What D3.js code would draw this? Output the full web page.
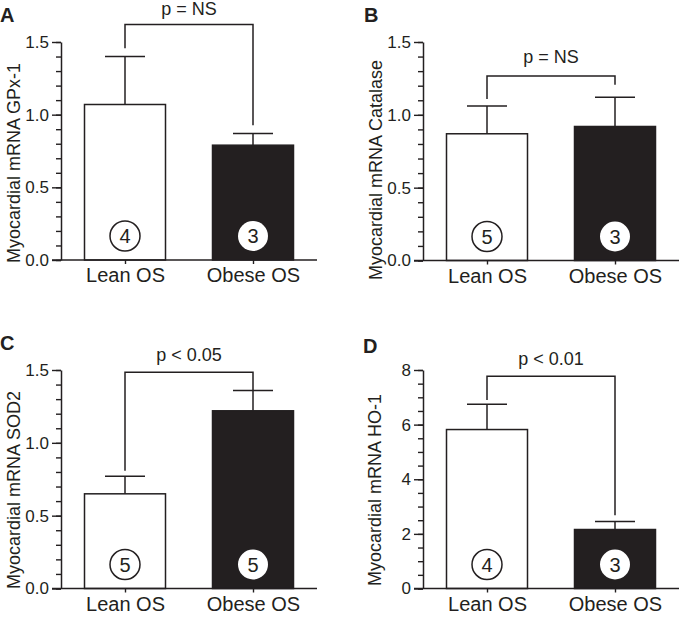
<!DOCTYPE html>
<html>
<head>
<meta charset="utf-8">
<script src="https://cdn.jsdelivr.net/npm/d3@7"></script>
<style>
  body { margin: 0; background: #fff; }
  svg { display: block; }
  text { font-family: "Liberation Sans", Arial, sans-serif; fill: #231f20; }
</style>
</head>
<body>
<script>
// data
var groups = ["Lean OS", "Obese OS"];
var letters = ["A", "B", "C", "D"];
var yTitles = ["Myocardial mRNA GPx-1", "Myocardial mRNA Catalase", "Myocardial mRNA SOD2", "Myocardial mRNA HO-1"];
var yMax = [1.5, 1.5, 1.5, 8];
var majorStep = [0.5, 0.5, 0.5, 2];
var minorStep = [0.1, 0.1, 0.1, 0.5];
var means = [[1.07, 0.79], [0.87, 0.92], [0.65, 1.22], [5.82, 2.16]];
var sems = [[0.33, 0.08], [0.19, 0.20], [0.12, 0.14], [0.93, 0.29]];
var nCounts = [[4, 3], [5, 3], [5, 5], [4, 3]];
var pLabels = ["p = NS", "p = NS", "p < 0.05", "p < 0.01"];
var bracketTop = [1.62, 1.266, 1.484, 7.77];
var bracketLegs = [[1.457, 0.927], [1.108, 1.206], [0.809, 1.363], [6.90, 2.68]];

var W = 679, H = 618, ink = "#231f20";

// panel placement (pixels)
var layout = [
  {ox: 61, xEnd: 317, y0: 260, yTop: 42, letterX: 0, letterY: 22, titleX: 20, titleY: 163, pGap: 10},
  {ox: 423, xEnd: 679, y0: 260.5, yTop: 42, letterX: 364, letterY: 22, titleX: 382, titleY: 170, pGap: 13},
  {ox: 61, xEnd: 317, y0: 588.5, yTop: 370, letterX: 0, letterY: 350, titleX: 20, titleY: 490, pGap: 11},
  {ox: 423, xEnd: 679, y0: 588.5, yTop: 370, letterX: 363, letterY: 353, titleX: 381, titleY: 490, pGap: 11}
];

var svg = d3.select("body").append("svg")
  .attr("width", W)
  .attr("height", H);

letters.forEach(function (letter, i) {
  var L = layout[i];
  var g = svg.append("g");

  var y = d3.scaleLinear().domain([0, yMax[i]]).range([L.y0, L.yTop]);
  var x = d3.scalePoint().domain(groups).range([L.ox, L.xEnd]).padding(0.5);
  var barW = 81;

  var fmt = yMax[i] > 2 ? d3.format("d") : d3.format(".1f");
  var majors = d3.range(0, yMax[i] + 1e-9, majorStep[i]);
  var minors = d3.range(0, yMax[i] + 1e-9, minorStep[i]);

  // minor ticks
  g.append("g")
    .attr("transform", "translate(" + L.ox + ",0)")
    .call(d3.axisLeft(y).tickValues(minors).tickSize(5).tickFormat(""))
    .call(function (a) { a.select(".domain").remove(); a.selectAll("line").attr("stroke", ink).attr("stroke-width", 1.4); });

  // major ticks + labels
  var ya = g.append("g")
    .attr("transform", "translate(" + L.ox + ",0)")
    .call(d3.axisLeft(y).tickValues(majors).tickSize(9).tickPadding(3).tickSizeOuter(0).tickFormat(fmt));
  ya.select(".domain").attr("stroke", ink).attr("stroke-width", 1.5);
  ya.selectAll("line").attr("stroke", ink).attr("stroke-width", 1.4);
  ya.selectAll("text").attr("font-size", 17).attr("fill", ink)
    .attr("font-family", "Liberation Sans, Arial, sans-serif");

  // bars
  g.selectAll("rect.bar").data(means[i]).enter().append("rect")
    .attr("x", function (d, j) { return x(groups[j]) - barW / 2; })
    .attr("y", function (d) { return y(d); })
    .attr("width", barW)
    .attr("height", function (d) { return y(0) - y(d); })
    .attr("fill", function (d, j) { return j === 0 ? "#fff" : ink; })
    .attr("stroke", ink)
    .attr("stroke-width", 1.5);

  // error bars (upper only)
  means[i].forEach(function (m, j) {
    var cx = x(groups[j]), top = y(m + sems[i][j]);
    g.append("line").attr("x1", cx).attr("x2", cx).attr("y1", y(m)).attr("y2", top)
      .attr("stroke", ink).attr("stroke-width", 1.5);
    g.append("line").attr("x1", cx - 20).attr("x2", cx + 20).attr("y1", top).attr("y2", top)
      .attr("stroke", ink).attr("stroke-width", 1.5);
  });

  // x axis
  var xa = g.append("g")
    .attr("transform", "translate(0," + L.y0 + ")")
    .call(d3.axisBottom(x).tickSize(4).tickPadding(4).tickSizeOuter(0));
  xa.select(".domain").attr("d", "M" + (L.ox - 9) + ",0H" + L.xEnd).attr("stroke", ink).attr("stroke-width", 1.5);
  xa.selectAll("line").attr("stroke", ink).attr("stroke-width", 1.4);
  xa.selectAll("text").attr("font-size", 20).attr("fill", ink)
    .attr("font-family", "Liberation Sans, Arial, sans-serif");

  // n circles
  nCounts[i].forEach(function (n, j) {
    var cx = x(groups[j]), cy = L.y0 - 24;
    g.append("circle").attr("cx", cx).attr("cy", cy).attr("r", 15)
      .attr("fill", "#fff")
      .attr("stroke", j === 0 ? ink : "none")
      .attr("stroke-width", 1.5);
    g.append("text").attr("x", cx).attr("y", cy + 7)
      .attr("text-anchor", "middle").attr("font-size", 20)
      .text(n);
  });

  // significance bracket
  var xl = x(groups[0]), xr = x(groups[1]), bt = y(bracketTop[i]);
  g.append("path")
    .attr("d", "M" + xl + "," + y(bracketLegs[i][0]) + "V" + bt + "H" + xr + "V" + y(bracketLegs[i][1]))
    .attr("fill", "none").attr("stroke", ink).attr("stroke-width", 1.5);
  g.append("text")
    .attr("x", (xl + xr) / 2).attr("y", bt - L.pGap)
    .attr("text-anchor", "middle").attr("font-size", 18)
    .text(pLabels[i]);

  // y title
  g.append("text")
    .attr("transform", "translate(" + L.titleX + "," + L.titleY + ")rotate(-90)")
    .attr("text-anchor", "middle").attr("font-size", 18)
    .text(yTitles[i]);

  // panel letter
  g.append("text")
    .attr("x", L.letterX).attr("y", L.letterY)
    .attr("font-size", 20).attr("font-weight", "bold")
    .text(letter);
});
</script>
</body>
</html>
